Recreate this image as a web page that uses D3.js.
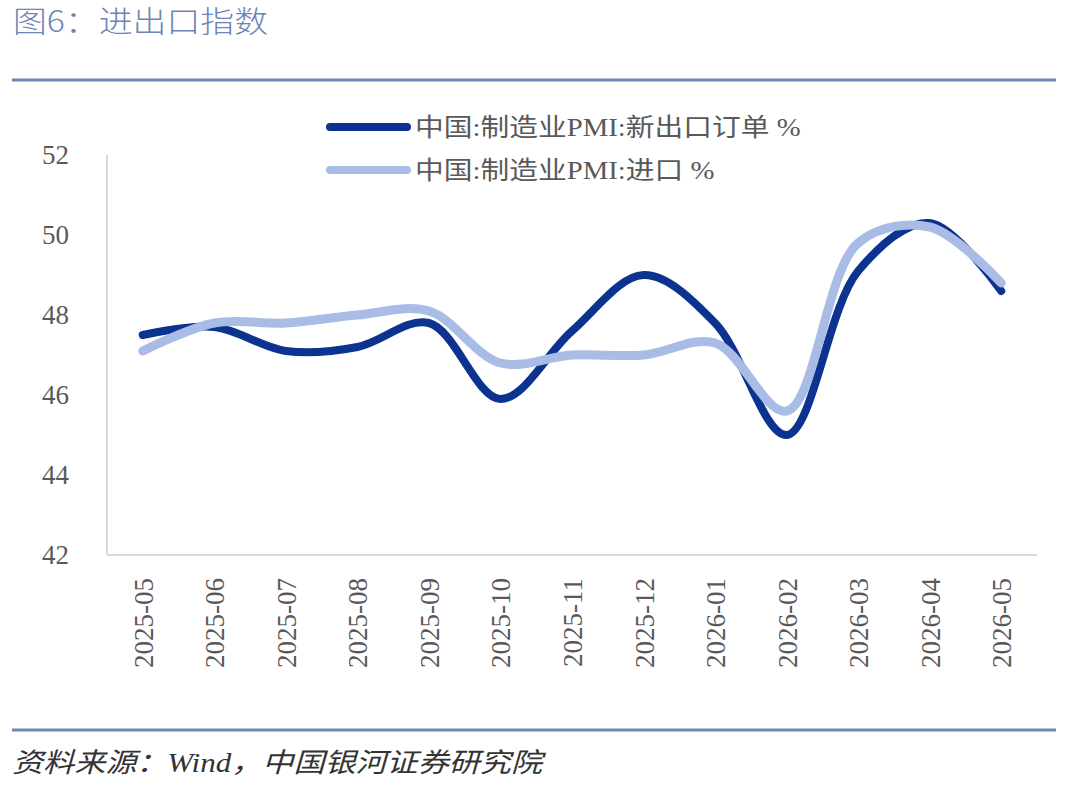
<!DOCTYPE html>
<html>
<head>
<meta charset="utf-8">
<style>
  body{margin:0;background:#fff}
  svg text{font-family:"Liberation Serif","Noto Sans CJK SC",serif}
</style>
</head>
<body>
<div id="chart"></div>
<script src="https://d3js.org/d3.v7.min.js"></script>
<script>
var months = ['2025-05','2025-06','2025-07','2025-08','2025-09','2025-10','2025-11',
              '2025-12','2026-01','2026-02','2026-03','2026-04','2026-05'];
var newExport = [47.5, 47.7, 47.1, 47.2, 47.8, 45.9, 47.6, 49.0, 47.8, 45.0, 49.1, 50.3, 48.6];
var imports   = [47.1, 47.8, 47.8, 48.0, 48.1, 46.8, 47.0, 47.0, 47.3, 45.6, 49.8, 50.2, 48.8];
var yTicks = [42, 44, 46, 48, 50, 52];
var seriesNames = ['中国:制造业PMI:新出口订单 %', '中国:制造业PMI:进口 %'];

(function () {
  var
    W = 1066, H = 788,
    left = 107, right = 1037, top = 155, bottom = 555,
    DARK = '#0b338f', LIGHT = '#a8bce5', RULE = '#7088b8';

  var svg = d3.select('#chart').append('svg')
    .attr('width', W).attr('height', H);

  // title + rules
  svg.append('text')
    .text('图6：进出口指数')
    .attr('x', 13).attr('y', 32)
    .attr('textLength', 255)
    .attr('lengthAdjust', 'spacingAndGlyphs')
    .style('font-family', '"Noto Sans CJK SC",sans-serif')
    .style('font-weight', 300)
    .style('font-size', '30px')
    .style('fill', '#6d84b8');

  svg.append('line')
    .attr('x1', 12).attr('x2', 1056).attr('y1', 80).attr('y2', 80)
    .style('stroke', RULE).style('stroke-width', 3);

  svg.append('line')
    .attr('x1', 12).attr('x2', 1056).attr('y1', 730).attr('y2', 730)
    .style('stroke', RULE).style('stroke-width', 3);

  svg.append('text')
    .text('资料来源：Wind，中国银河证券研究院')
    .attr('x', 12).attr('y', 772)
    .attr('textLength', 530)
    .attr('lengthAdjust', 'spacingAndGlyphs')
    .style('font-style', 'italic')
    .style('font-size', '27px')
    .style('fill', '#333');

  var x = d3.scalePoint().domain(months).range([left, right]).padding(0.5);
  var y = d3.scaleLinear().domain([42, 52]).range([bottom, top]);

  // axes
  svg.append('line')
    .attr('x1', left).attr('x2', left).attr('y1', y(52)).attr('y2', y(42))
    .style('stroke', '#d9d9d9').style('stroke-width', 2);
  svg.append('line')
    .attr('x1', left).attr('x2', right).attr('y1', y(42)).attr('y2', y(42))
    .style('stroke', '#d9d9d9').style('stroke-width', 2);

  svg.selectAll('.ytick').data(yTicks).enter().append('text')
    .attr('class', 'ytick')
    .text(function (d) { return d; })
    .attr('x', 69)
    .attr('y', function (d) { return y(d); })
    .attr('dy', '0.35em')
    .attr('text-anchor', 'end')
    .style('font-size', '27px')
    .style('fill', '#595959');

  svg.selectAll('.xtick').data(months).enter().append('text')
    .attr('class', 'xtick')
    .text(function (d) { return d; })
    .attr('transform', function (d) { return 'translate(' + (x(d) + 10) + ',578) rotate(-90)'; })
    .attr('text-anchor', 'end')
    .style('font-size', '27px')
    .style('fill', '#595959');

  var line = d3.line()
    .x(function (d, i) { return x(months[i]); })
    .y(function (d) { return y(d); })
    .curve(d3.curveCatmullRom.alpha(0.5));

  svg.append('path')
    .attr('d', line(newExport))
    .style('fill', 'none').style('stroke', DARK)
    .style('stroke-width', 8).style('stroke-linecap', 'round');

  svg.append('path')
    .attr('d', line(imports))
    .style('fill', 'none').style('stroke', LIGHT)
    .style('stroke-width', 9).style('stroke-linecap', 'round');

  // legend
  var legend = svg.selectAll('.legend').data(seriesNames).enter().append('g')
    .attr('class', 'legend')
    .attr('transform', function (d, i) { return 'translate(0,' + (127 + i * 43) + ')'; });

  legend.append('line')
    .attr('x1', 330).attr('x2', 407).attr('y1', 0).attr('y2', 0)
    .style('stroke', function (d, i) { return i === 0 ? DARK : LIGHT; })
    .style('stroke-width', 8).style('stroke-linecap', 'round');

  legend.append('text')
    .text(function (d) { return d; })
    .attr('transform', 'translate(415,0) scale(1.15,1)')
    .attr('dy', '0.35em')
    .style('font-size', '25px')
    .style('fill', '#595959');
})();
</script>
</body>
</html>
